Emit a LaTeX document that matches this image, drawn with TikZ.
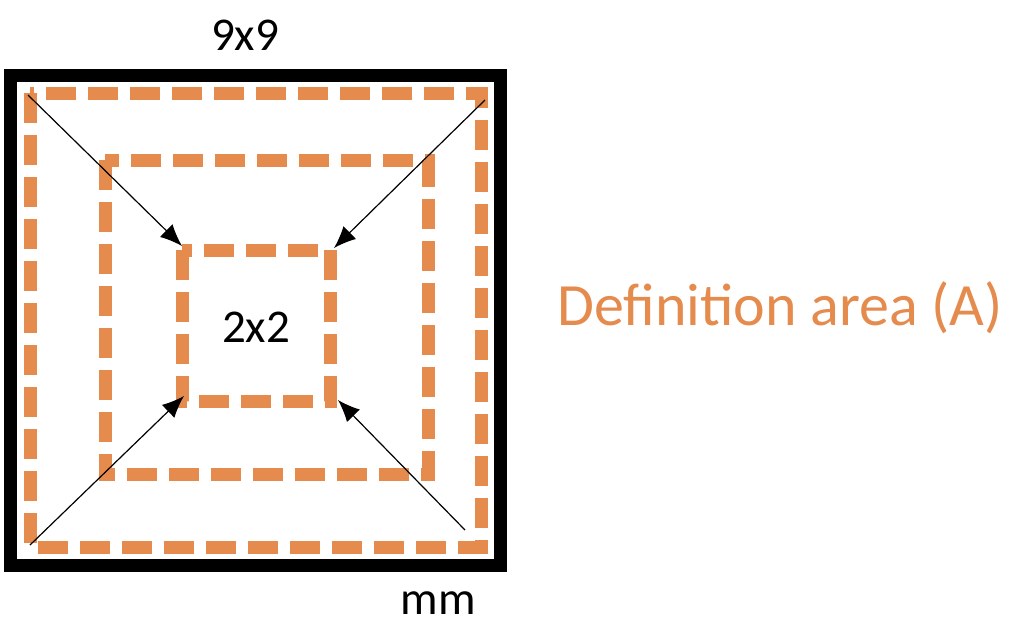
\documentclass[tikz,border=0pt]{standalone}
\usepackage{fontspec}
\setmainfont{Carlito}
\usetikzlibrary{arrows.meta}
\definecolor{org}{HTML}{E58B4E}
\begin{document}
\begin{tikzpicture}[x=1pt,y=-1pt,
  dbox/.style={draw=org,line width=13pt,dash pattern=on 30pt off 12pt},
  arr/.style={-{Latex[length=22pt,width=18pt]},line width=1.2pt},
  lbl/.style={font=\fontsize{47}{50}\selectfont,inner sep=0pt}]
\useasboundingbox (0,0) rectangle (1019,633);
\draw[line width=13pt] (10,75) rectangle (500,565);
\draw[dbox] (30,93) rectangle (481,547);
\draw[dbox] (105,160) rectangle (428,474);
\draw[dbox] (182,250) rectangle (330,401);
\coordinate (c1) at (28,95); \coordinate (t1) at (182,246);
\coordinate (c2) at (485,100); \coordinate (t2) at (334,248);
\coordinate (c3) at (30,545); \coordinate (t3) at (184,396);
\coordinate (c4) at (465,530); \coordinate (t4) at (338,400);
\draw[arr] (c1) -- (t1);
\draw[arr] (c2) -- (t2);
\draw[arr] (c3) -- (t3);
\draw[arr] (c4) -- (t4);
\node[lbl] (a) at (245,35) {9x9};
\node[lbl] (b) at (256,327) {2x2};
\node[lbl] (c) at (438,603) {mm};
\node[lbl,text=org,font=\fontsize{60}{64}\selectfont] (d) at (780,308) {Definition area (A)};
\end{tikzpicture}
\end{document}
